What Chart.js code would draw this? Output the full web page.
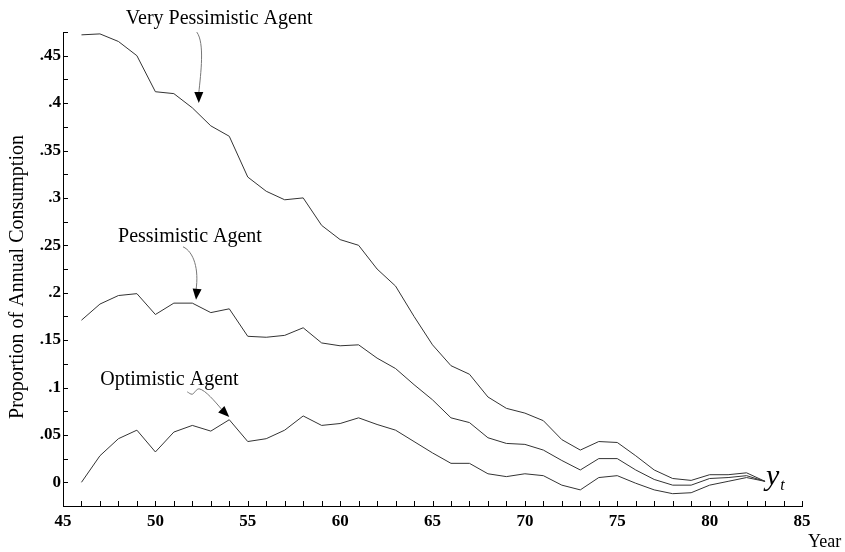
<!DOCTYPE html>
<html>
<head>
<meta charset="utf-8">
<title>Proportion of Annual Consumption</title>
<script src="https://cdn.jsdelivr.net/npm/chart.js@4.4.1/dist/chart.umd.min.js"></script>
<style>
  html, body { margin: 0; padding: 0; background: #fff; }
  #wrap { width: 845px; height: 552px; }
</style>
</head>
<body>
<div id="wrap"><canvas id="chart" width="845" height="552"></canvas></div>
<script>
// Year of life on the x axis
const years = [46, 47, 48, 49, 50, 51, 52, 53, 54, 55, 56, 57, 58, 59, 60, 61, 62, 63, 64,
               65, 66, 67, 68, 69, 70, 71, 72, 73, 74, 75, 76, 77, 78, 79, 80, 81, 82, 83];

const veryPessimistic = [0.472, 0.473, 0.465, 0.450, 0.412, 0.410, 0.395, 0.376, 0.365, 0.322,
                         0.307, 0.298, 0.300, 0.271, 0.256, 0.250, 0.225, 0.207, 0.175, 0.145,
                         0.123, 0.114, 0.090, 0.078, 0.073, 0.065, 0.045, 0.034, 0.043, 0.042,
                         0.028, 0.013, 0.004, 0.002, 0.008, 0.008, 0.010, 0.001];

const pessimistic = [0.171, 0.188, 0.197, 0.199, 0.177, 0.189, 0.189, 0.179, 0.183, 0.154,
                     0.153, 0.155, 0.163, 0.147, 0.144, 0.145, 0.131, 0.120, 0.103, 0.087,
                     0.068, 0.063, 0.047, 0.041, 0.040, 0.034, 0.023, 0.013, 0.025, 0.025,
                     0.013, 0.003, -0.003, -0.003, 0.004, 0.005, 0.007, 0.001];

const optimistic = [0.000, 0.028, 0.046, 0.055, 0.032, 0.053, 0.060, 0.054, 0.066, 0.043,
                    0.046, 0.055, 0.070, 0.060, 0.062, 0.068, 0.061, 0.055, 0.043, 0.031,
                    0.020, 0.020, 0.009, 0.006, 0.009, 0.007, -0.003, -0.008, 0.005, 0.007,
                    -0.001, -0.008, -0.012, -0.011, -0.003, 0.001, 0.005, 0.001];

const seriesNames = ['Very Pessimistic Agent', 'Pessimistic Agent', 'Optimistic Agent'];
const xTickValues = [45, 50, 55, 60, 65, 70, 75, 80, 85];
const yTickValues = [0, 0.05, 0.1, 0.15, 0.2, 0.25, 0.3, 0.35, 0.4, 0.45];

const SERIF = '"Liberation Serif", "DejaVu Serif", serif';

function toPoints(values) {
    return years.map((yr, i) => ({ x: yr, y: values[i] }));
}

function yLabel(v) {
    if (v === 0) return '0';
    return v.toFixed(2).replace(/^0/, '').replace(/0$/, '');
}

// small tick marks pointing into the plot, one per year / every .025
const axisTicks = {
    id: 'axisTicks',
    afterDraw(chart) {
        const { ctx, chartArea, scales: { x, y } } = chart;
        ctx.save();
        ctx.strokeStyle = '#000';
        ctx.lineWidth = 1;
        ctx.beginPath();
        for (let k = 0; k <= x.max - x.min; k++) {
            const px = Math.round(x.getPixelForValue(x.min + k)) + 0.5;
            ctx.moveTo(px, chartArea.bottom);
            ctx.lineTo(px, chartArea.bottom - 5);
        }
        const steps = Math.round((y.max - y.min) / 0.025);
        for (let k = 0; k <= steps; k++) {
            const py = Math.round(y.getPixelForValue(y.min + k * 0.025)) + 0.5;
            ctx.moveTo(chartArea.left, py);
            ctx.lineTo(chartArea.left + 5, py);
        }
        ctx.stroke();
        ctx.restore();
    }
};

// agent labels with curved arrows; offsets are pixels relative to the arrow tip
const notes = [
    { name: seriesNames[0], tip: [52.35, 0.400], text: [-73, -79],
      curve: [[-2, -71], [6, -60], [2, -30], [0, -10]], dir: [0, 1] },
    { name: seriesNames[1], tip: [52.2, 0.1925], text: [-78, -58],
      curve: [[-13, -53], [-2, -48], [3, -30], [0, -10]], dir: [-0.1, 1] },
    { name: seriesNames[2], tip: [54, 0.069], text: [-129, -32],
      curve: [[-42, -25], [-40, -24], [-39, -22.5], [-37, -22.7],
              [-35, -23], [-33, -28.5], [-30, -28],
              [-24, -27], [-14, -15], [-8, -8]], dir: [1, 0.95] }
];

const annotationsPlugin = {
    id: 'agentNotes',
    afterDraw(chart) {
        const { ctx, chartArea, scales: { x, y } } = chart;
        ctx.save();
        notes.forEach(n => {
            const tx = x.getPixelForValue(n.tip[0]);
            const ty = y.getPixelForValue(n.tip[1]);

            ctx.fillStyle = '#000';
            ctx.font = '20px ' + SERIF;
            ctx.textAlign = 'left';
            ctx.textBaseline = 'alphabetic';
            ctx.fillText(n.name, tx + n.text[0], ty + n.text[1]);

            ctx.strokeStyle = '#777';
            ctx.lineWidth = 1;
            ctx.beginPath();
            ctx.moveTo(tx + n.curve[0][0], ty + n.curve[0][1]);
            for (let i = 1; i + 2 < n.curve.length; i += 3) {
                ctx.bezierCurveTo(tx + n.curve[i][0], ty + n.curve[i][1],
                                  tx + n.curve[i + 1][0], ty + n.curve[i + 1][1],
                                  tx + n.curve[i + 2][0], ty + n.curve[i + 2][1]);
            }
            ctx.stroke();

            // arrow head
            const len = Math.hypot(n.dir[0], n.dir[1]);
            const dx = n.dir[0] / len, dy = n.dir[1] / len;
            const bx = tx - dx * 11, by = ty - dy * 11;
            ctx.fillStyle = '#000';
            ctx.beginPath();
            ctx.moveTo(tx, ty);
            ctx.lineTo(bx - dy * 4.5, by + dx * 4.5);
            ctx.lineTo(bx + dy * 4.5, by - dx * 4.5);
            ctx.closePath();
            ctx.fill();
        });

        // y_t at the end of the lines
        const ex = x.getPixelForValue(years[years.length - 1]);
        const ey = y.getPixelForValue(0);
        ctx.fillStyle = '#000';
        ctx.textAlign = 'left';
        ctx.textBaseline = 'alphabetic';
        ctx.font = 'italic 30px ' + SERIF;
        ctx.fillText('y', ex + 1, ey + 3);
        const yw = ctx.measureText('y').width;
        ctx.font = 'italic 16px ' + SERIF;
        ctx.fillText('t', ex + 1 + yw + 1, ey + 8);

        // x axis title at the right end
        ctx.font = '18px ' + SERIF;
        ctx.fillText('Year', chartArea.right + 6, chartArea.bottom + 41);

        // y axis title
        ctx.translate(23, 277);
        ctx.rotate(-Math.PI / 2);
        ctx.textAlign = 'center';
        ctx.font = '20px ' + SERIF;
        ctx.fillText('Proportion of Annual Consumption', 0, 0);
        ctx.restore();
    }
};

function lineSet(label, values) {
    return {
        label: label,
        data: toPoints(values),
        borderColor: '#333',
        borderWidth: 1,
        tension: 0,
        pointRadius: 0,
        fill: false
    };
}

new Chart(document.getElementById('chart').getContext('2d'), {
    type: 'line',
    data: {
        datasets: [
            lineSet(seriesNames[0], veryPessimistic),
            lineSet(seriesNames[1], pessimistic),
            lineSet(seriesNames[2], optimistic)
        ]
    },
    options: {
        responsive: false,
        animation: false,
        events: [],
        layout: { padding: { top: 32, right: 43, bottom: 0, left: 0 } },
        plugins: {
            legend: { display: false },
            tooltip: { enabled: false }
        },
        scales: {
            x: {
                type: 'linear',
                min: 45,
                max: 85,
                afterBuildTicks: s => { s.ticks = xTickValues.map(v => ({ value: v })); },
                afterFit: s => { s.height = 46; },
                grid: { display: false, drawTicks: false },
                border: { display: true, color: '#000', width: 1 },
                ticks: {
                    autoSkip: false,
                    maxRotation: 0,
                    padding: 5,
                    color: '#000',
                    font: { family: SERIF, size: 17, weight: 'bold' },
                    callback: v => String(v)
                }
            },
            y: {
                type: 'linear',
                min: -0.025,
                max: 0.475,
                afterBuildTicks: s => { s.ticks = yTickValues.map(v => ({ value: v })); },
                afterFit: s => { s.width = 63; },
                grid: { display: false, drawTicks: false },
                border: { display: true, color: '#000', width: 1 },
                ticks: {
                    autoSkip: false,
                    padding: 2,
                    color: '#000',
                    font: { family: SERIF, size: 17, weight: 'bold' },
                    callback: v => yLabel(v)
                }
            }
        }
    },
    plugins: [axisTicks, annotationsPlugin]
});
</script>
</body>
</html>
